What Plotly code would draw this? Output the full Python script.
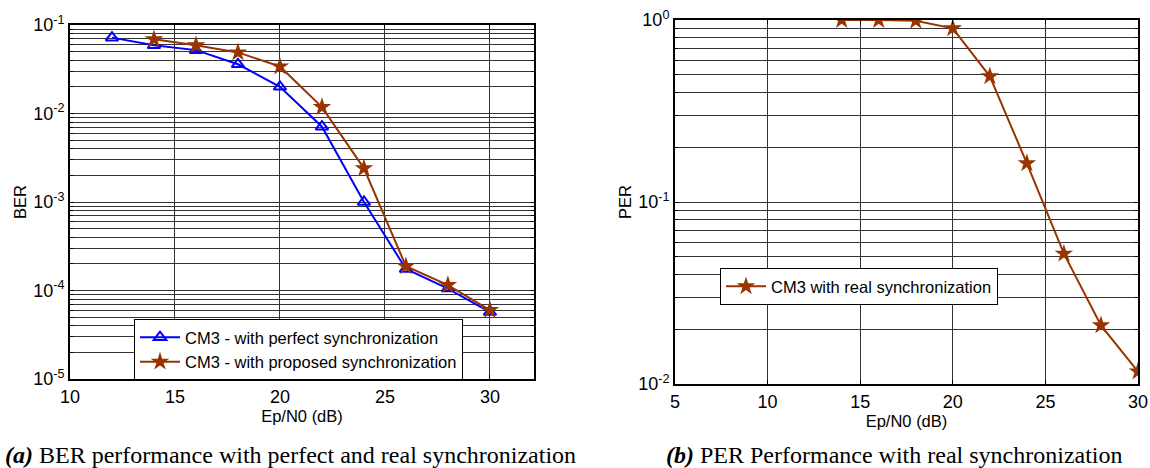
import plotly.graph_objects as go

# Ep/N0 sweep (dB)
ebn0_perfect = [12, 14, 16, 18, 20, 22, 24, 26, 28, 30]
ber_perfect = [0.072, 0.059, 0.052, 0.036, 0.020, 0.0071, 0.0010, 1.75e-4, 1.05e-4, 5.7e-5]

ebn0_proposed = [14, 16, 18, 20, 22, 24, 26, 28, 30]
ber_proposed = [0.069, 0.059, 0.049, 0.034, 0.0118, 0.0024, 1.88e-4, 1.15e-4, 6.0e-5]

ebn0_per = [14, 16, 18, 20, 22, 24, 26, 28, 30]
per_real = [1.0, 1.0, 0.99, 0.90, 0.49, 0.163, 0.052, 0.021, 0.0117]

BLUE = "#0000ff"
BROWN = "#993300"
GRID = "#333333"
FONT = "Liberation Sans, Arial, sans-serif"


def log_ticks(lo_exp, hi_exp):
    """Decade ticks with labels, plus the 2..9 minor positions."""
    major, text, minor = [], [], []
    for e in range(lo_exp, hi_exp + 1):
        major.append(10.0 ** e)
        text.append("10<sup>%d</sup>" % e)
        if e < hi_exp:
            minor.extend(m * 10.0 ** e for m in range(2, 10))
    return major, text, minor


ber_tv, ber_tt, ber_minor = log_ticks(-5, -1)
per_tv, per_tt, per_minor = log_ticks(-2, 0)

fig = go.Figure()

fig.add_trace(go.Scatter(
    x=ebn0_perfect, y=ber_perfect, mode="lines+markers",
    name="CM3 - with perfect synchronization",
    line=dict(color=BLUE, width=2),
    marker=dict(symbol="triangle-up-open", size=11, color=BLUE, line=dict(width=2)),
    xaxis="x", yaxis="y", legend="legend",
))
fig.add_trace(go.Scatter(
    x=ebn0_proposed, y=ber_proposed, mode="lines+markers",
    name="CM3 - with proposed synchronization",
    line=dict(color=BROWN, width=2),
    marker=dict(symbol="star", size=14, color=BROWN),
    xaxis="x", yaxis="y", legend="legend",
))
fig.add_trace(go.Scatter(
    x=ebn0_per, y=per_real, mode="lines+markers",
    name="CM3 with real synchronization",
    line=dict(color=BROWN, width=2),
    marker=dict(symbol="star", size=14, color=BROWN),
    xaxis="x2", yaxis="y2", legend="legend2",
))

axis_common = dict(
    showline=True, linecolor="black", linewidth=2, mirror="ticks",
    ticks="inside", ticklen=4, tickcolor="black",
    showgrid=True, gridcolor=GRID, gridwidth=1, zeroline=False,
    tickfont=dict(family=FONT, size=18, color="black"),
    automargin=False,
)


def minor_grid(vals):
    return dict(tickmode="array", tickvals=vals, showgrid=True,
                gridcolor=GRID, gridwidth=1, ticks="inside", ticklen=3,
                tickcolor="black")


title_font = dict(family=FONT, size=16.5, color="black")

fig.update_layout(
    width=1150, height=468,
    margin=dict(l=0, r=0, t=0, b=0),
    paper_bgcolor="white", plot_bgcolor="white",
    font=dict(family=FONT, color="black"),
    xaxis=dict(
        domain=[70 / 1150, 534 / 1150], range=[10, 32.1],
        tickvals=[10, 15, 20, 25, 30],
        title=dict(text="Ep/N0 (dB)", font=title_font, standoff=0),
        anchor="y", **axis_common,
    ),
    yaxis=dict(
        domain=[1 - 379 / 468, 1 - 25 / 468], type="log", range=[-5, -1],
        tickvals=ber_tv, ticktext=ber_tt, minor=minor_grid(ber_minor),
        title=dict(text="BER", font=title_font, standoff=2),
        anchor="x", **axis_common,
    ),
    xaxis2=dict(
        domain=[675 / 1150, 1138 / 1150], range=[5, 30],
        tickvals=[5, 10, 15, 20, 25, 30],
        title=dict(text="Ep/N0 (dB)", font=title_font, standoff=0),
        anchor="y2", **axis_common,
    ),
    yaxis2=dict(
        domain=[1 - 384 / 468, 1 - 20 / 468], type="log", range=[-2, 0],
        tickvals=per_tv, ticktext=per_tt, minor=minor_grid(per_minor),
        title=dict(text="PER", font=title_font, standoff=2),
        anchor="x2", **axis_common,
    ),
    legend=dict(
        x=134 / 1150, y=1 - 319 / 468, xanchor="left", yanchor="top",
        bgcolor="white", bordercolor="black", borderwidth=1,
        font=dict(family=FONT, size=16.5, color="black"),
        itemwidth=40, tracegroupgap=0,
    ),
    legend2=dict(
        x=720 / 1150, y=1 - 268 / 468, xanchor="left", yanchor="top",
        bgcolor="white", bordercolor="black", borderwidth=1,
        font=dict(family=FONT, size=16.5, color="black"),
        itemwidth=40,
    ),
    showlegend=True,
)

captions = [
    (290 / 1150, "<b><i>(a)</i></b> BER performance with perfect and real synchronization"),
    (895 / 1150, "<b><i>(b)</i></b> PER Performance with real synchronization"),
]
for cx, text in captions:
    fig.add_annotation(
        x=cx, y=1 - 455 / 468, xref="paper", yref="paper",
        text=text, showarrow=False, xanchor="center", yanchor="middle",
        font=dict(family="Liberation Serif, Times New Roman, serif", size=24, color="black"),
    )

fig.write_html("out.html")
